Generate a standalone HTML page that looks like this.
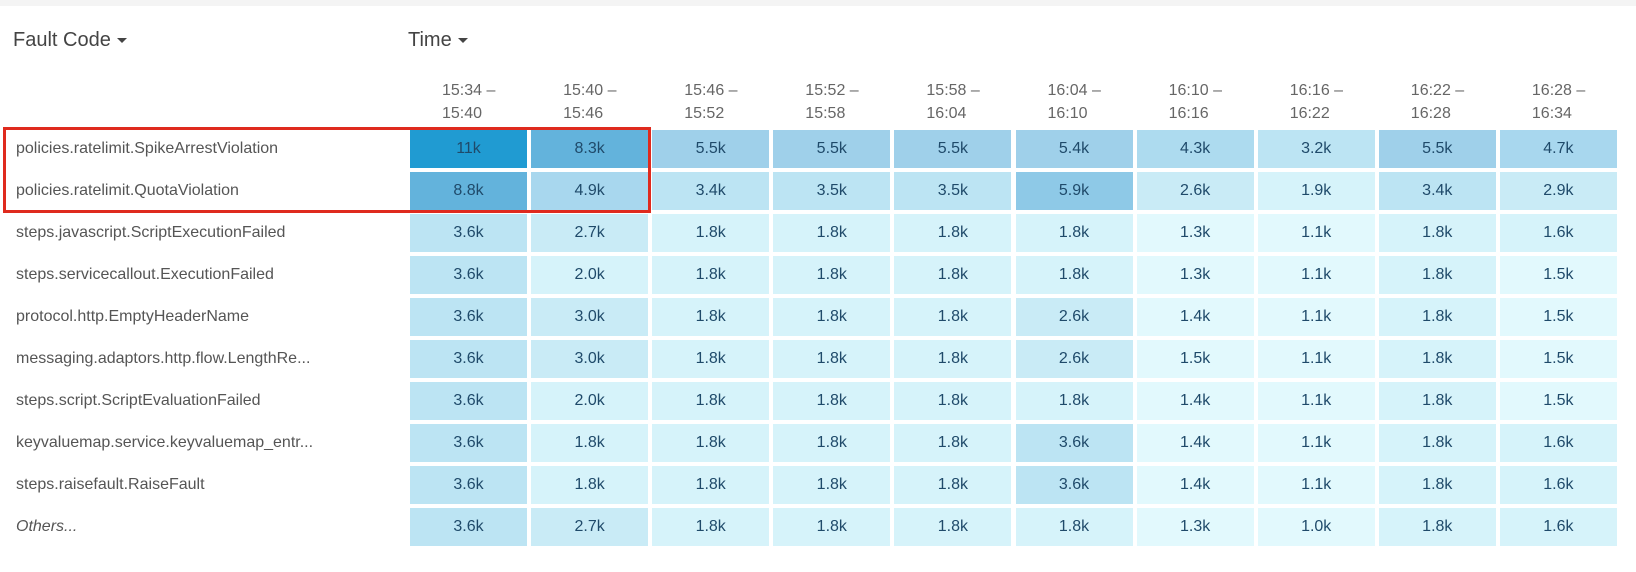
<!DOCTYPE html>
<html><head><meta charset="utf-8"><style>
body{margin:0;width:1636px;height:572px;background:#fff;position:relative;overflow:hidden;font-family:"Liberation Sans",sans-serif}
.top{position:absolute;left:0;top:0;width:1636px;height:6px;background:#f4f4f4}
.h{position:absolute;font-size:20px;color:#444;top:29px}
.caret{display:inline-block;width:0;height:0;border-left:5px solid transparent;border-right:5px solid transparent;border-top:5px solid #444;vertical-align:middle;margin-left:6px}
.th{position:absolute;top:79px;font-size:16px;line-height:23px;color:#666;width:117px;padding-left:32px;box-sizing:border-box}
.lab{position:absolute;left:16px;font-size:16px;color:#555;line-height:38px}
.c{position:absolute;width:117px;height:38px;line-height:38px;text-align:center;font-size:16px;color:#1f4a6a}
.box{position:absolute;left:3px;top:127px;width:648px;height:86px;border:3px solid #df2a1e;box-sizing:border-box}
</style></head><body>
<div class="top"></div>
<div class="h" style="left:13px">Fault Code<span class="caret"></span></div>
<div class="h" style="left:408px">Time<span class="caret"></span></div>
<div id="g"></div>
<div class="box"></div>
<script>
var heads=["15:34","15:40","15:46","15:52","15:58","16:04","16:10","16:16","16:22","16:28","16:34"];
var labs=["policies.ratelimit.SpikeArrestViolation","policies.ratelimit.QuotaViolation","steps.javascript.ScriptExecutionFailed","steps.servicecallout.ExecutionFailed","protocol.http.EmptyHeaderName","messaging.adaptors.http.flow.LengthRe...","steps.script.ScriptEvaluationFailed","keyvaluemap.service.keyvaluemap_entr...","steps.raisefault.RaiseFault","<i>Others...</i>"];
var d=[[11,8.3,5.5,5.5,5.5,5.4,4.3,3.2,5.5,4.7],[8.8,4.9,3.4,3.5,3.5,5.9,2.6,1.9,3.4,2.9],[3.6,2.7,1.8,1.8,1.8,1.8,1.3,1.1,1.8,1.6],[3.6,2.0,1.8,1.8,1.8,1.8,1.3,1.1,1.8,1.5],[3.6,3.0,1.8,1.8,1.8,2.6,1.4,1.1,1.8,1.5],[3.6,3.0,1.8,1.8,1.8,2.6,1.5,1.1,1.8,1.5],[3.6,2.0,1.8,1.8,1.8,1.8,1.4,1.1,1.8,1.5],[3.6,1.8,1.8,1.8,1.8,3.6,1.4,1.1,1.8,1.6],[3.6,1.8,1.8,1.8,1.8,3.6,1.4,1.1,1.8,1.6],[3.6,2.7,1.8,1.8,1.8,1.8,1.3,1.0,1.8,1.6]];
function col(v){if(v>=10)return"#209bd2";if(v>=8)return"#63b3dc";if(v>=5.7)return"#8ec9e7";if(v>=5)return"#9fd0ea";if(v>=4.5)return"#a8d7ee";if(v>=4)return"#addbef";if(v>=3.1)return"#bce4f3";if(v>=2.5)return"#c9ebf6";if(v>=1.6)return"#d6f3fa";return"#e2f9fd";}
var h="";
for(var j=0;j<10;j++){var x=410+j*121.1;h+='<div class="th" style="left:'+x+'px">'+heads[j]+' –<br>'+heads[j+1]+'</div>';}
for(var i=0;i<10;i++){var y=130+i*42;h+='<div class="lab" style="top:'+y+'px">'+labs[i]+'</div>';
for(var j=0;j<10;j++){var v=d[i][j];var x=410+j*121.1;h+='<div class="c" style="left:'+x+'px;top:'+y+'px;background:'+col(v)+'">'+(v>=10?Math.round(v):v.toFixed(1))+'k</div>';}}
document.getElementById("g").innerHTML=h;
</script>
</body></html>
